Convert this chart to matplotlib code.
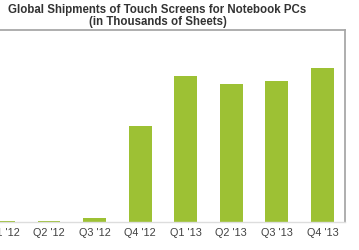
import matplotlib
matplotlib.use("Agg")
import matplotlib.pyplot as plt

# Quarterly shipments (thousands of sheets)
quarters = ["Q1 '12", "Q2 '12", "Q3 '12", "Q4 '12", "Q1 '13", "Q2 '13", "Q3 '13", "Q4 '13"]
shipments = [60, 60, 190, 6020, 9170, 8690, 8880, 9700]

plt.rcParams['font.family'] = ['Liberation Sans', 'DejaVu Sans']

fig = plt.figure(figsize=(3.59, 2.5), dpi=100)
ax = fig.add_axes([-19.4 / 359, 1 - 221.5 / 250, 364.6 / 359, 191.5 / 250])

x = range(len(quarters))
ax.bar(x, shipments, width=0.5, color="#9dc134")
ax.set_xlim(-0.5, len(quarters) - 0.5)
ax.set_ylim(0, 12070)
ax.set_yticks([])
ax.set_xticks(list(x))
ax.set_xticklabels(quarters, fontsize=7.8, color="#404040")
ax.tick_params(axis="x", length=0, pad=5)

for side in ["top", "right", "left"]:
    ax.spines[side].set_color("#a8a8a8")
    ax.spines[side].set_linewidth(1.3)
ax.spines["bottom"].set_color("#dddddd")
ax.spines["bottom"].set_linewidth(1.0)

fig.text(157.5 / 359, 1 - 10 / 250, "Global Shipments of Touch Screens for Notebook PCs",
         ha="center", va="center", fontsize=8.3, fontweight="bold", color="#333333")
fig.text(158 / 359, 1 - 21.5 / 250, "(in Thousands of Sheets)",
         ha="center", va="center", fontsize=8.3, fontweight="bold", color="#333333")

fig.savefig("out.png", dpi=100)
